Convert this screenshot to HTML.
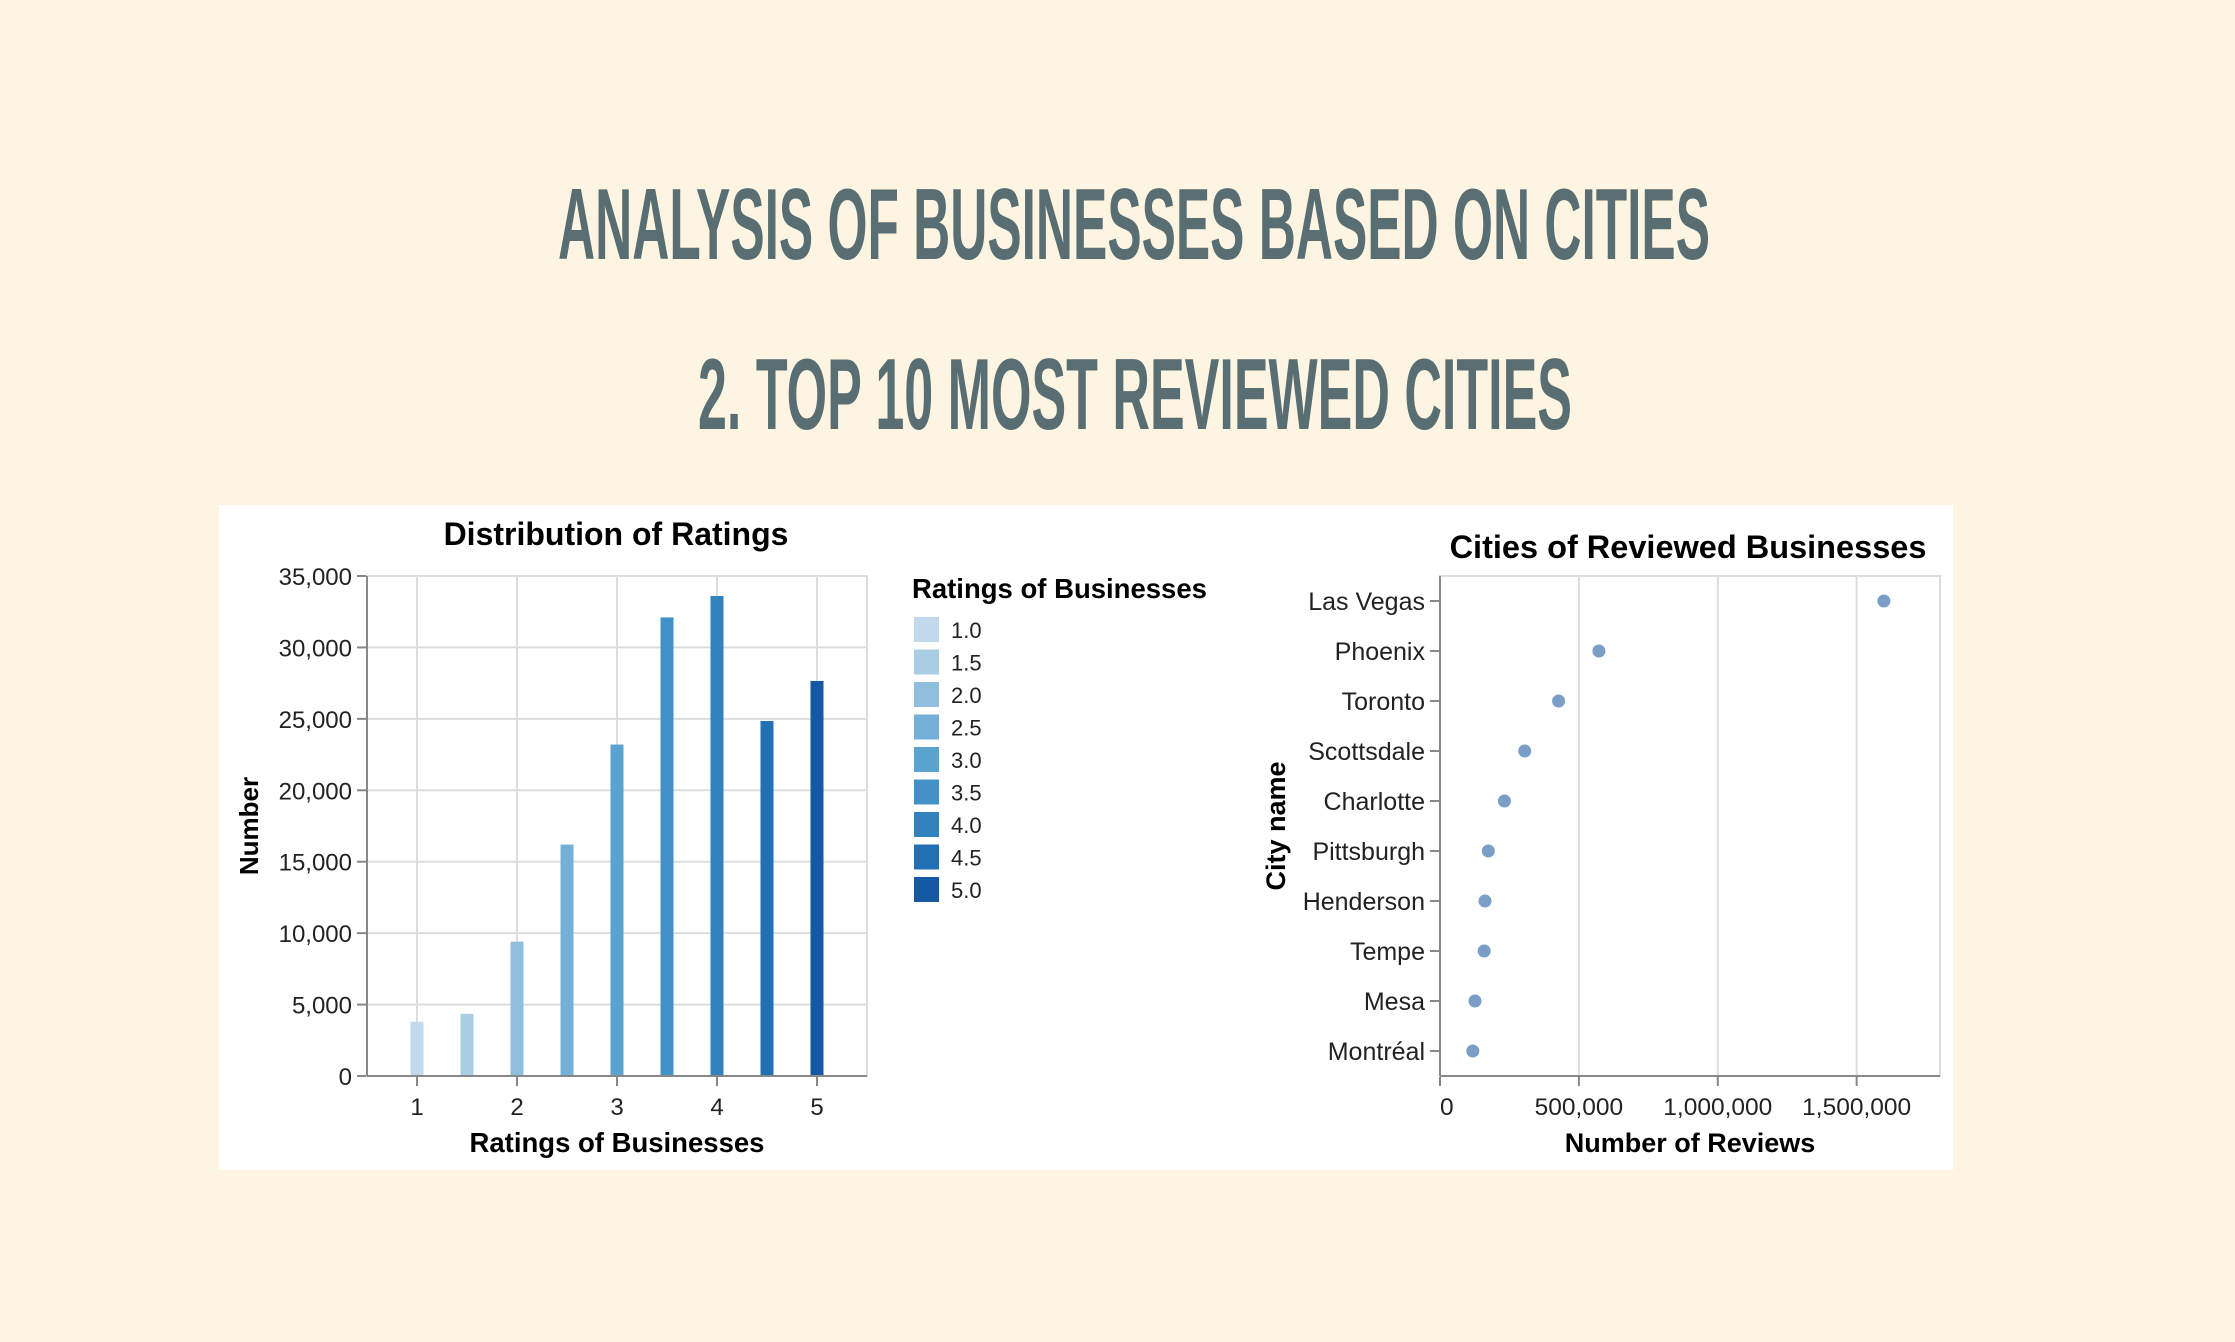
<!DOCTYPE html>
<html><head><meta charset="utf-8"><style>
html,body{margin:0;padding:0;background:#fdf5e2;}
svg{display:block;}
text{font-family:"Liberation Sans",sans-serif;}
</style></head><body>
<svg id="root" width="2235" height="1342" viewBox="0 0 2235 1342" xmlns="http://www.w3.org/2000/svg">
<rect x="0" y="0" width="2235" height="1342" fill="#fdf5e2"/>
<text x="558" y="259" font-size="101" font-weight="bold" fill="#586e73" textLength="1152" lengthAdjust="spacingAndGlyphs">ANALYSIS OF BUSINESSES BASED ON CITIES</text>
<text x="698" y="429" font-size="101" font-weight="bold" fill="#586e73" textLength="874" lengthAdjust="spacingAndGlyphs">2. TOP 10 MOST REVIEWED CITIES</text>
<rect x="219" y="505" width="1734" height="665" fill="#ffffff"/>
<g id="left"></g>
<g id="right"></g>
</svg>
<script>
const ratings=[1.0,1.5,2.0,2.5,3.0,3.5,4.0,4.5,5.0];
const ratingCounts=[3800,4350,9400,16200,23200,32100,33600,24850,27650];
const ratingColors=["#c1d9ec","#a9cee4","#8fbfdd","#74afd7","#5ba3cf","#4392c7","#3282bd","#2170b4","#1558a3"];
const yTicks=[0,5000,10000,15000,20000,25000,30000,35000];
const xTicks=[1,2,3,4,5];
const cities=["Las Vegas","Phoenix","Toronto","Scottsdale","Charlotte","Pittsburgh","Henderson","Tempe","Mesa","Montréal"];
const reviews=[1598000,572000,427000,305000,232000,174000,162000,159000,126000,118000];
const reviewTicks=[0,500000,1000000,1500000];

const NS="http://www.w3.org/2000/svg";
function mk(parent,tag,attrs,txt){const e=document.createElementNS(NS,tag);for(const k in attrs)e.setAttribute(k,attrs[k]);if(txt!==undefined)e.textContent=txt;parent.appendChild(e);return e;}
const fmt=v=>v.toLocaleString('en-US');

// left chart
const L=document.getElementById('left');
const lx0=367,lx1=867,ly0=576,ly1=1076;
const xs=v=>lx0+(v-0.5)/5*(lx1-lx0);
const ys=v=>ly1-v/35000*(ly1-ly0);
yTicks.forEach(t=>{
  let g=mk(L,'line',{x1:lx0,x2:lx1,y1:ys(t),y2:ys(t),stroke:'#dddddd','stroke-width':2});
  
  let tk=mk(L,'line',{x1:lx0-10,x2:lx0,y1:ys(t),y2:ys(t),stroke:'#888','stroke-width':2});
  
  let tl=mk(L,'text',{x:lx0-15,y:ys(t)+9,'font-size':24,'text-anchor':'end',fill:'#222'},fmt(t));
  
});
xTicks.forEach(t=>{
  let g=mk(L,'line',{x1:xs(t),x2:xs(t),y1:ly0,y2:ly1,stroke:'#dddddd','stroke-width':2});
  
  let tk=mk(L,'line',{x1:xs(t),x2:xs(t),y1:ly1,y2:ly1+10,stroke:'#888','stroke-width':2});
  
  let tl=mk(L,'text',{x:xs(t),y:1115,'font-size':24,'text-anchor':'middle',fill:'#222'},String(t));
  
});
let lb=mk(L,'rect',{x:lx0,y:ly0,width:lx1-lx0,height:ly1-ly0,fill:'none',stroke:'#dddddd','stroke-width':2});

ratings.forEach((r,i)=>{
  let b=mk(L,'rect',{x:xs(r)-6.5,y:ys(ratingCounts[i]),width:13,height:ly1-ys(ratingCounts[i]),fill:ratingColors[i]});
  
  
});
let la=mk(L,'line',{x1:lx0,x2:lx0,y1:ly0,y2:ly1,stroke:'#888','stroke-width':2});

let lxa=mk(L,'line',{x1:lx0,x2:lx1,y1:ly1,y2:ly1,stroke:'#888','stroke-width':2});

let lt=mk(L,'text',{x:616,y:545,'font-size':32,'font-weight':'bold','text-anchor':'middle',fill:'#000'},'Distribution of Ratings');

let lxt=mk(L,'text',{x:617,y:1152,'font-size':27.5,'font-weight':'bold','text-anchor':'middle',fill:'#000'},'Ratings of Businesses');

let lyt=mk(L,'text',{x:0,y:0,'font-size':26,'font-weight':'bold','text-anchor':'middle',fill:'#000',transform:'translate(258,826) rotate(-90)'},'Number');

let lgt=mk(L,'text',{x:912,y:598,'font-size':27.5,'font-weight':'bold',fill:'#000'},'Ratings of Businesses');

ratings.forEach((r,i)=>{
  const y=617+i*32.5;
  let s=mk(L,'rect',{x:914,y:y,width:25,height:25,fill:ratingColors[i]});
  
  let t=mk(L,'text',{x:951,y:y+21,'font-size':22,fill:'#222'},r.toFixed(1));
  
});

// right chart
const R=document.getElementById('right');
const rx0=1440,rx1=1940,ry0=576,ry1=1076;
const rxs=v=>rx0+v/1800000*(rx1-rx0);
const rys=i=>ry0+(i+0.5)*(ry1-ry0)/cities.length;
reviewTicks.forEach(t=>{
  let g=mk(R,'line',{x1:rxs(t),x2:rxs(t),y1:ry0,y2:ry1,stroke:'#dddddd','stroke-width':2});
  
  let tk=mk(R,'line',{x1:rxs(t),x2:rxs(t),y1:ry1,y2:ry1+10,stroke:'#888','stroke-width':2});
  
  let tl=mk(R,'text',{x:rxs(t),y:1115,'font-size':24.5,'text-anchor':t===0?'start':'middle',fill:'#222'},fmt(t));
  
});
let rb=mk(R,'rect',{x:rx0,y:ry0,width:rx1-rx0,height:ry1-ry0,fill:'none',stroke:'#dddddd','stroke-width':2});

cities.forEach((c,i)=>{
  let tk=mk(R,'line',{x1:rx0-10,x2:rx0,y1:rys(i),y2:rys(i),stroke:'#888','stroke-width':2});
  
  let tl=mk(R,'text',{x:rx0-15,y:rys(i)+9,'font-size':25,'text-anchor':'end',fill:'#222'},c);
  
  let d=mk(R,'circle',{cx:rxs(reviews[i]),cy:rys(i),r:6.5,fill:'#7b9ec7'});
  
  
});
let ra=mk(R,'line',{x1:rx0,x2:rx0,y1:ry0,y2:ry1,stroke:'#888','stroke-width':2});

let rxa=mk(R,'line',{x1:rx0,x2:rx1,y1:ry1,y2:ry1,stroke:'#888','stroke-width':2});

let rt=mk(R,'text',{x:1688,y:558,'font-size':32.5,'font-weight':'bold','text-anchor':'middle',fill:'#000'},'Cities of Reviewed Businesses');

let rxt=mk(R,'text',{x:1690,y:1152,'font-size':27,'font-weight':'bold','text-anchor':'middle',fill:'#000'},'Number of Reviews');

let ryt=mk(R,'text',{x:0,y:0,'font-size':27,'font-weight':'bold','text-anchor':'middle',fill:'#000',transform:'translate(1285,826) rotate(-90)'},'City name');

</script>
</body></html>
